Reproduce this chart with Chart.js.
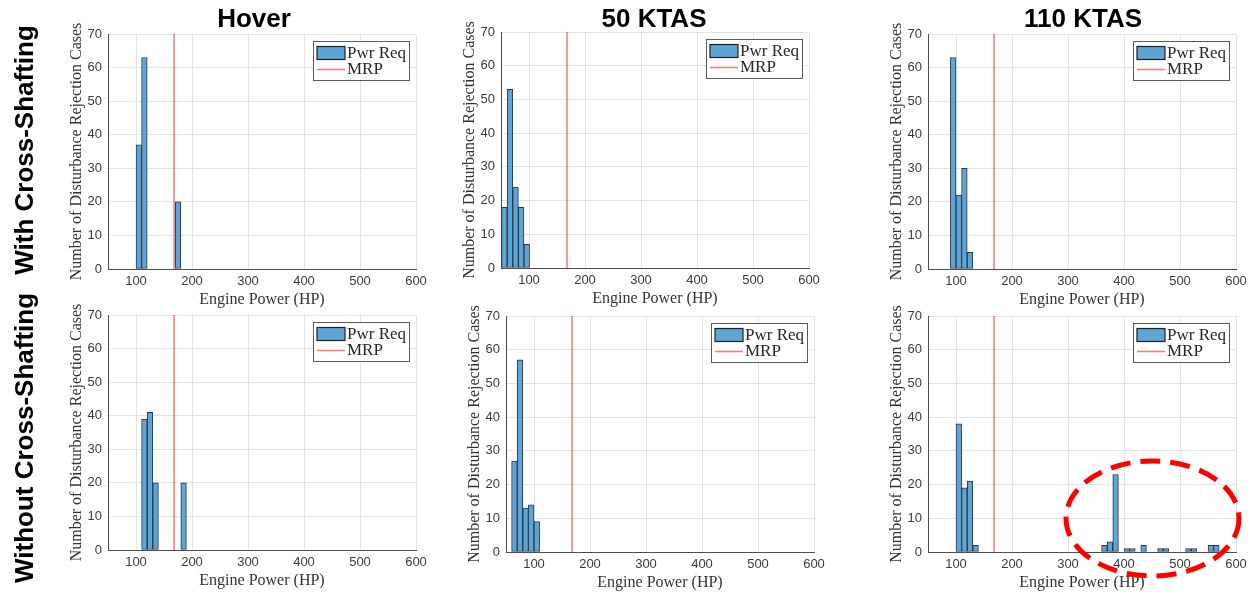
<!DOCTYPE html>
<html><head><meta charset="utf-8">
<script src="https://cdn.jsdelivr.net/npm/chart.js@4.4.1/dist/chart.umd.min.js"></script>
<style>
html,body{margin:0;padding:0;background:#fff;}
body{width:1251px;height:592px;position:relative;overflow:hidden;}
canvas.panel{position:absolute;}
#overlay{position:absolute;left:0;top:0;pointer-events:none;}
</style></head><body>
<svg id="overlay" width="1251" height="592" xmlns="http://www.w3.org/2000/svg"></svg>
<script>
// ---------------- data ----------------
const xTickValues = [100, 200, 300, 400, 500, 600];
const yTickValues = [0, 10, 20, 30, 40, 50, 60, 70];
const columnTitles = ['Hover', '50 KTAS', '110 KTAS'];
const rowTitles = ['With Cross-Shafting', 'Without Cross-Shafting'];
const seriesNames = ['Pwr Req', 'MRP'];
const xAxisTitle = 'Engine Power (HP)';
const yAxisTitle = 'Number of Disturbance Rejection Cases';
const mrpPowerHP = 168;

const hoverWithBins = [105, 115, 175];
const hoverWithCounts = [37, 63, 20];
const ktas50WithBins = [56, 66, 76, 86, 96];
const ktas50WithCounts = [18, 53, 24, 18, 7];
const ktas110WithBins = [95, 105, 115, 125];
const ktas110WithCounts = [63, 22, 30, 5];
const hoverWithoutBins = [115, 125, 135, 185];
const hoverWithoutCounts = [39, 41, 20, 20];
const ktas50WithoutBins = [65, 75, 85, 95, 105];
const ktas50WithoutCounts = [27, 57, 13, 14, 9];
const ktas110WithoutBins = [105, 115, 125, 135, 365, 375, 385, 405, 415, 435, 465, 475, 515, 525, 555, 565];
const ktas110WithoutCounts = [38, 19, 21, 2, 2, 3, 23, 1, 1, 2, 1, 1, 1, 1, 2, 2];

// ---------------- layout / style ----------------
const panels = [
  {bins: hoverWithBins, counts: hoverWithCounts, rect: {l:108, t:34, r:416, b:269}},
  {bins: ktas50WithBins, counts: ktas50WithCounts, rect: {l:501, t:32, r:809, b:268}},
  {bins: ktas110WithBins, counts: ktas110WithCounts, rect: {l:928, t:34, r:1236, b:269}},
  {bins: hoverWithoutBins, counts: hoverWithoutCounts, rect: {l:108, t:315, r:416, b:550}},
  {bins: ktas50WithoutBins, counts: ktas50WithoutCounts, rect: {l:506, t:316, r:814, b:552}},
  {bins: ktas110WithoutBins, counts: ktas110WithoutCounts, rect: {l:928, t:316, r:1236, b:552}}
];
const PAD_L = 56, PAD_T = 14, PAD_R = 16, PAD_B = 44;
const barFill = '#5ea5d7';
const barEdge = '#2a3540';
const mrpColor = 'rgba(255,60,60,0.7)';
const gridColor = '#e3e3e3';
const axisColor = '#4d4d4d';
const tickColor = '#3a3a3a';
const serif = "'Liberation Serif','Times New Roman',serif";
const sans = "'Liberation Sans',Arial,sans-serif";

function makeChart(p) {
  const c = document.createElement('canvas');
  c.className = 'panel';
  const w = (p.rect.r - p.rect.l) + PAD_L + PAD_R;
  const h = (p.rect.b - p.rect.t) + PAD_T + PAD_B;
  c.width = w; c.height = h;
  c.style.left = (p.rect.l - PAD_L) + 'px';
  c.style.top = (p.rect.t - PAD_T) + 'px';
  c.style.width = w + 'px'; c.style.height = h + 'px';
  document.body.insertBefore(c, document.getElementById('overlay'));
  return new Chart(c, {
    type: 'bar',
    data: {
      datasets: [
        {type: 'line', label: seriesNames[1],
         data: [{x: mrpPowerHP, y: yTickValues[0]}, {x: mrpPowerHP, y: yTickValues[yTickValues.length - 1]}],
         borderColor: mrpColor, borderWidth: 1.5, pointRadius: 0, fill: false, order: 1},
        {type: 'bar', label: seriesNames[0],
         data: p.bins.map((b, i) => ({x: b, y: p.counts[i]})),
         backgroundColor: barFill, borderColor: barEdge, borderWidth: 1,
         borderSkipped: false, barPercentage: 1, categoryPercentage: 1, order: 2}
      ]
    },
    options: {
      responsive: false, maintainAspectRatio: false, animation: false,
      layout: {padding: {left: 0, top: PAD_T, right: PAD_R, bottom: 0}},
      plugins: {legend: {display: false}, tooltip: {enabled: false}},
      scales: {
        x: {
          type: 'linear', min: 50, max: 600, offset: false,
          afterBuildTicks: s => { s.ticks = xTickValues.map(v => ({value: v})); },
          afterFit: s => { s.height = PAD_B; },
          grid: {color: gridColor, drawTicks: false, offset: false},
          border: {color: axisColor, width: 1},
          ticks: {font: {family: sans, size: 13}, color: tickColor, padding: 5, maxRotation: 0},
          title: {display: true, text: xAxisTitle, font: {family: serif, size: 16}, color: '#333',
                  padding: {top: 0, bottom: 4}}
        },
        y: {
          type: 'linear', min: 0, max: 70,
          afterBuildTicks: s => { s.ticks = yTickValues.map(v => ({value: v})); },
          afterFit: s => { s.width = PAD_L; },
          grid: {color: gridColor, drawTicks: false},
          border: {color: axisColor, width: 1},
          ticks: {font: {family: sans, size: 13}, color: tickColor, padding: 6},
          title: {display: true, text: yAxisTitle, font: {family: serif, size: 16}, color: '#333',
                  padding: {top: 15, bottom: 0}}
        }
      }
    }
  });
}
panels.forEach(makeChart);

// ---------------- overlay: titles, row labels, legends, annotation ----------------
const NS = 'http://www.w3.org/2000/svg';
const svg = document.getElementById('overlay');
function el(tag, attrs, text) {
  const e = document.createElementNS(NS, tag);
  for (const k in attrs) e.setAttribute(k, attrs[k]);
  if (text !== undefined) e.textContent = text;
  svg.appendChild(e);
  return e;
}
const titleCenters = [254, 654, 1083];
columnTitles.forEach((t, i) => el('text', {x: titleCenters[i], y: 27, 'text-anchor': 'middle',
  'font-family': sans, 'font-weight': 'bold', 'font-size': 26, fill: '#000'}, t));
const rowCenters = [150, 438];
rowTitles.forEach((t, i) => el('text', {transform: `translate(33,${rowCenters[i]}) rotate(-90)`, 'text-anchor': 'middle',
  'font-family': sans, 'font-weight': 'bold', 'font-size': 26, fill: '#000'}, t));

panels.forEach(p => {
  const bx = p.rect.r - 7 - 96, by = p.rect.t + 7;
  el('rect', {x: bx + 0.5, y: by + 0.5, width: 96, height: 39, fill: '#fff', stroke: '#5a5a5a', 'stroke-width': 1});
  el('rect', {x: bx + 4, y: by + 5.5, width: 28, height: 13, fill: barFill, stroke: '#1f1f1f', 'stroke-width': 1.2});
  el('line', {x1: bx + 4, x2: bx + 32, y1: by + 28.5, y2: by + 28.5, stroke: mrpColor, 'stroke-width': 1.5});
  el('text', {x: bx + 34, y: by + 16.7, 'font-family': serif, 'font-size': 17, fill: '#262626'}, seriesNames[0]);
  el('text', {x: bx + 34, y: by + 33, 'font-family': serif, 'font-size': 17, fill: '#262626'}, seriesNames[1]);
});

el('ellipse', {cx: 1152.5, cy: 518.5, rx: 86.5, ry: 57.5, fill: 'none', stroke: '#ff0000',
  'stroke-width': 5, 'stroke-dasharray': '20 10'});
</script>
</body></html>
